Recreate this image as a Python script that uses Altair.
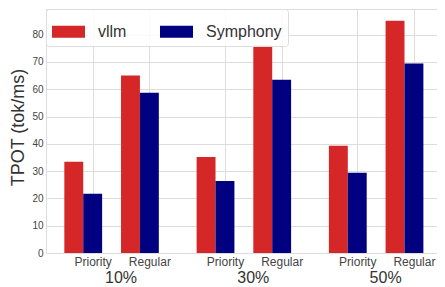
import altair as alt
import pandas as pd

groups = ["10%", "30%", "50%"]
types = ["Priority", "Regular"]
systems = ["vllm", "Symphony"]
vllm = [33.4, 65.0, 35.2, 76.0, 39.3, 85.1]
symphony = [21.7, 58.7, 26.4, 63.5, 29.4, 69.4]
colors = ["#d62728", "#000080"]

rows = []
ticks = []
for gi, g in enumerate(groups):
    for ti, t in enumerate(types):
        k = gi * len(types) + ti
        tick = gi * 7 + ti * 3
        ticks.append(tick)
        for si, (s, vals) in enumerate(zip(systems, [vllm, symphony])):
            rows.append({
                "group": g, "type": t, "system": s, "value": vals[k],
                "x0": tick - 1.5 + si, "x1": tick - 0.5 + si,
            })
df = pd.DataFrame(rows)
gdf = pd.DataFrame({"group": groups, "gx": [gi * 7 + 1.5 for gi in range(len(groups))]})

W, H = 391, 244
FONT = "Liberation Sans"

xscale = alt.Scale(domain=[-2.47, 18.22], nice=False, zero=False)

bars = alt.Chart(df).mark_bar().encode(
    x=alt.X("x0:Q", scale=xscale,
            axis=alt.Axis(values=ticks, title=None, grid=True, domain=False, ticks=False,
                          labelExpr="datum.value % 7 == 0 ? 'Priority' : 'Regular'",
                          labelFontSize=12, labelColor="#444444", labelPadding=3,
                          labelFont=FONT, gridColor="#dddddd", gridWidth=1)),
    x2="x1:Q",
    y=alt.Y("value:Q", scale=alt.Scale(domain=[0, 89.4], nice=False),
            axis=alt.Axis(values=list(range(0, 90, 10)), title="TPOT (tok/ms)", grid=True,
                          domain=False, ticks=False, labelFontSize=10, labelColor="#444444",
                          labelPadding=3, labelFont=FONT, titleFont=FONT, titleFontSize=18,
                          titleFontWeight="normal", titleColor="#333333", titleX=-28,
                          titleY=118, titleBaseline="middle", titleAlign="center",
                          gridColor="#dddddd", gridWidth=1)),
    y2=alt.datum(0),
    color=alt.Color("system:N", scale=alt.Scale(domain=systems, range=colors), title=None,
                    legend=alt.Legend(orient="none", legendX=0, legendY=0, direction="horizontal",
                                      symbolType="M-1,-0.36H1V0.36H-1Z", symbolSize=1089,
                                      symbolStrokeWidth=0, labelFontSize=16, labelFont=FONT,
                                      labelColor="#333333", labelOffset=13, columnPadding=33,
                                      padding=6, fillColor="rgba(255,255,255,0.85)",
                                      strokeColor="#dddddd", cornerRadius=3)),
)

glabels = alt.Chart(gdf).mark_text(fontSize=16, font=FONT, color="#333333",
                                   baseline="alphabetic", align="center").encode(
    x=alt.X("gx:Q", scale=xscale),
    y=alt.value(H + 30),
    text="group:N",
)

chart = alt.layer(bars, glabels).properties(
    width=W, height=H,
    autosize=alt.AutoSizeParams(type="none"),
    padding={"left": 38, "top": 1, "right": 0, "bottom": 34},
).configure_view(stroke="#cccccc", strokeWidth=2).configure(background="white")

chart.save("out.html", embed_options={"renderer": "svg", "actions": False})
